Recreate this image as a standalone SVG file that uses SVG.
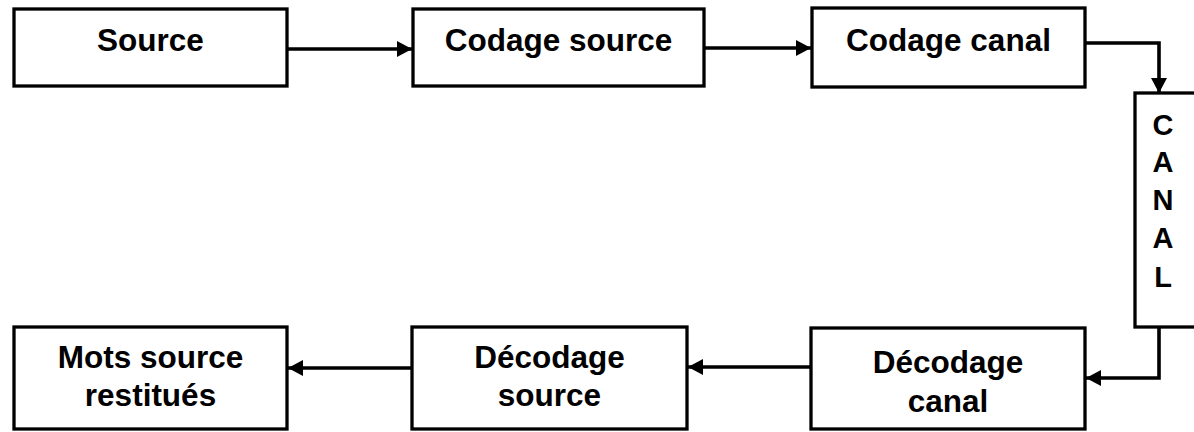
<svg xmlns="http://www.w3.org/2000/svg" width="1194" height="432" viewBox="0 0 1194 432">
<style>
.box{fill:#fff;stroke:#000;stroke-width:3.3}
.t{font-family:"Liberation Sans",Arial,sans-serif;font-weight:bold;font-size:31.5px;fill:#000;text-anchor:middle}
.c{font-family:"Liberation Sans",Arial,sans-serif;font-weight:bold;font-size:29px;fill:#000;text-anchor:middle}
.ln{fill:none;stroke:#000;stroke-width:3.6}
</style>
<defs>
<marker id="ah" markerUnits="userSpaceOnUse" markerWidth="16" markerHeight="16" refX="15" refY="8" orient="auto">
<path d="M0,0 L15,8 L0,16 z" fill="#000"/>
</marker>
</defs>
<rect width="1194" height="432" fill="#fff"/>
<g id="connectors">
<path class="ln" d="M287,49 L412,49" marker-end="url(#ah)"/>
<path class="ln" d="M704,48 L811,48" marker-end="url(#ah)"/>
<path class="ln" d="M1085,43 L1159,43 L1159,93" marker-end="url(#ah)"/>
<path class="ln" d="M1159,327 L1159,378 L1086,378" marker-end="url(#ah)"/>
<path class="ln" d="M811,367 L688,367" marker-end="url(#ah)"/>
<path class="ln" d="M412,368 L288,368" marker-end="url(#ah)"/>
</g>
<g id="source">
<rect class="box" x="14" y="9" width="273" height="77"/>
<text class="t" x="150.5" y="51">Source</text>
</g>
<g id="codage-source">
<rect class="box" x="413" y="9" width="291" height="77"/>
<text class="t" x="558.5" y="51">Codage source</text>
</g>
<g id="codage-canal">
<rect class="box" x="812" y="8" width="273" height="79"/>
<text class="t" x="948.5" y="51">Codage canal</text>
</g>
<g id="canal">
<rect class="box" x="1135" y="93" width="70" height="234"/>
<text class="c" x="1163" y="135">C</text>
<text class="c" x="1163" y="172">A</text>
<text class="c" x="1163" y="210">N</text>
<text class="c" x="1163" y="248">A</text>
<text class="c" x="1163" y="287">L</text>
</g>
<g id="decodage-canal">
<rect class="box" x="811" y="328" width="274" height="101"/>
<text class="t" x="948" y="373">Décodage</text>
<text class="t" x="948" y="412">canal</text>
</g>
<g id="decodage-source">
<rect class="box" x="412" y="327" width="275" height="102"/>
<text class="t" x="549.5" y="368">Décodage</text>
<text class="t" x="549.5" y="406">source</text>
</g>
<g id="mots-source">
<rect class="box" x="14" y="327" width="273" height="102"/>
<text class="t" x="150.5" y="368">Mots source</text>
<text class="t" x="150.5" y="406">restitués</text>
</g>
</svg>
